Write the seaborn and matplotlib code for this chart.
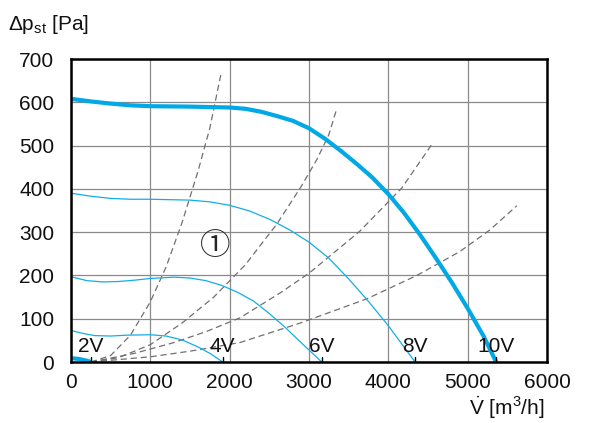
import matplotlib
matplotlib.use("Agg")
import matplotlib.pyplot as plt
import seaborn as sns
import pandas as pd

# fan curves (V in m3/h, dp in Pa)
v_10 = [0, 250, 500, 750, 1000, 1500, 2000, 2200, 2400, 2600, 2800, 3000, 3200, 3400, 3600,
        3800, 4000, 4200, 4400, 4600, 4800, 5000, 5200, 5360]
p_10 = [608, 602, 597, 593, 591, 590, 588, 585, 578, 568, 557, 540, 516, 488, 458,
        426, 388, 344, 294, 240, 184, 124, 60, 0]
v_8 = [0, 250, 500, 750, 1000, 1500, 1750, 2000, 2250, 2500, 2750, 3000, 3250, 3500,
       3750, 4000, 4200, 4338]
p_8 = [390, 383, 378, 376, 376, 374, 370, 362, 349, 330, 306, 277, 240, 192,
       140, 84, 34, 0]
v_6 = [0, 200, 400, 600, 800, 1000, 1300, 1500, 1700, 1900, 2100, 2300, 2500, 2700, 2900, 3161]
p_6 = [197, 188, 185, 186, 189, 193, 196, 194, 188, 177, 161, 141, 112, 80, 45, 0]
v_4 = [0, 150, 300, 500, 700, 1000, 1200, 1400, 1600, 1760, 1913]
p_4 = [73, 66, 61, 60, 62, 63, 60, 51, 35, 19, 0]
v_2 = [0, 100, 200, 248]
p_2 = [9, 7, 3, 0]

# system curves (dashed)
sys_v = [
    [250, 500, 750, 1000, 1200, 1400, 1600, 1750, 1890],
    [250, 600, 1000, 1400, 1800, 2200, 2600, 2900, 3100, 3250, 3350],
    [250, 800, 1300, 1700, 2130, 2640, 3000, 3640, 4170, 4550],
    [250, 1000, 1500, 2130, 2890, 3730, 4360, 4900, 5280, 5620],
]
sys_p = [
    [0, 15, 62, 139, 220, 322, 440, 540, 665],
    [0, 10, 40, 90, 150, 225, 320, 405, 468, 525, 585],
    [0, 20, 45, 70, 102, 160, 205, 302, 402, 503],
    [0, 12, 25, 45, 90, 146, 200, 255, 305, 361],
]

volt_labels = ["2V", "4V", "6V", "8V", "10V"]
volt_v = [248, 1913, 3161, 4338, 5360]

x_ticks = [0, 1000, 2000, 3000, 4000, 5000, 6000]
y_ticks = [0, 100, 200, 300, 400, 500, 600, 700]

sns.set_style("white")
plt.rcParams["font.family"] = ["Liberation Sans Narrow", "Liberation Sans", "DejaVu Sans"]
plt.rcParams["mathtext.fontset"] = "custom"
plt.rcParams["mathtext.rm"] = "Liberation Sans"

fig = plt.figure(figsize=(6, 4.23), dpi=100)
ax = fig.add_axes([0.1183, 0.1442, 0.7933, 0.7163])

blue = "#12aee8"
for vv, pp in zip(sys_v, sys_p):
    df = pd.DataFrame({"V": vv, "p": pp})
    sns.lineplot(data=df, x="V", y="p", ax=ax, sort=False, estimator=None,
                 color="#707070", lw=0.9, linestyle=(0, (5, 3)))

for vv, pp in [(v_8, p_8), (v_6, p_6), (v_4, p_4)]:
    df = pd.DataFrame({"V": vv, "p": pp})
    sns.lineplot(data=df, x="V", y="p", ax=ax, sort=False, estimator=None,
                 color=blue, lw=0.9)

for vv, pp in [(v_10, p_10), (v_2, p_2)]:
    df = pd.DataFrame({"V": vv, "p": pp})
    sns.lineplot(data=df, x="V", y="p", ax=ax, sort=False, estimator=None,
                 color="#00a9e6", lw=3.0, solid_capstyle="butt", solid_joinstyle="round")

for lab, vx in zip(volt_labels, volt_v):
    ax.plot([vx, vx], [0, 12], color="black", lw=1.0)
    ax.text(vx, 14, lab, ha="center", va="bottom", fontsize=15, color="#111111")

ax.text(1816, 267, "①", ha="center", va="center", fontsize=22,
        family=["Noto Sans CJK JP", "DejaVu Sans"])

ax.set_xlim(0, 6000)
ax.set_ylim(0, 700)
ax.set_xticks(x_ticks)
ax.set_yticks(y_ticks)
ax.grid(True, color="#8a8a8a", lw=0.9)
ax.tick_params(length=0, labelsize=15, labelcolor="#111111")
ax.tick_params(axis="y", pad=12)
ax.tick_params(axis="x", pad=8)
for s in ax.spines.values():
    s.set_color("black")
    s.set_linewidth(1.8)
ax.set_xlabel("")
ax.set_ylabel("")

fig.text(49 / 600, 1 - 25 / 423, r"$\Delta$p$_{\rm st}$ [Pa]", ha="center", va="center",
         fontsize=15, color="#111111")
fig.text(545 / 600, 1 - 408 / 423, r"$\dot{\rm V}$ [m$^3$/h]", ha="right", va="center",
         fontsize=15, color="#111111")

fig.savefig("out.png", dpi=100)
